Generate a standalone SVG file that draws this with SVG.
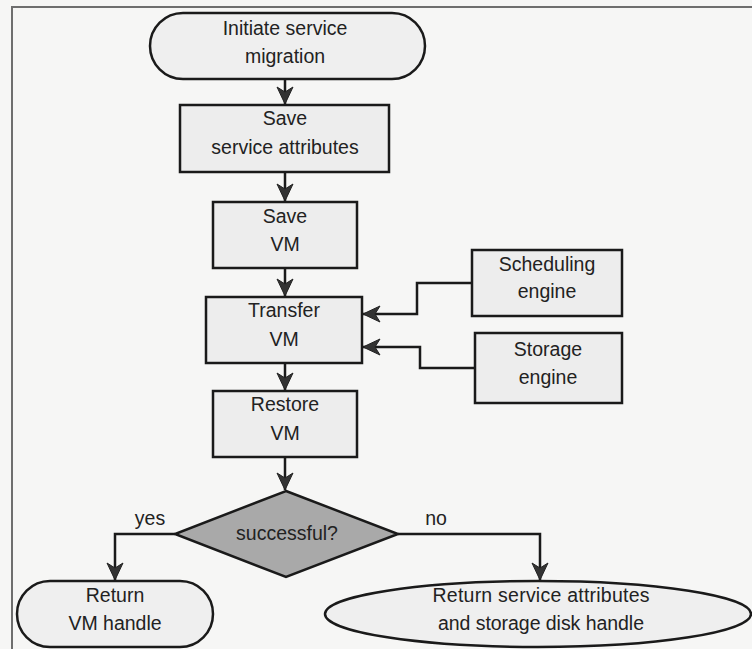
<svg xmlns="http://www.w3.org/2000/svg" width="752" height="649" viewBox="0 0 752 649">
  <style>
    .box { fill: #ededed; stroke: #1a1a1a; stroke-width: 2.5; }
    .term { fill: #efefef; stroke: #1a1a1a; stroke-width: 2.5; }
    .dec { fill: #a9a9a9; stroke: #1a1a1a; stroke-width: 2.5; }
    .lbl { font-family: "Liberation Sans", Arial, sans-serif; font-size: 19.5px; fill: #222; text-anchor: middle; }
    .wire { fill: none; stroke: #1a1a1a; stroke-width: 2.5; }
  </style>
  <defs>
    <marker id="arrow" markerUnits="userSpaceOnUse" markerWidth="20" markerHeight="18" refX="18" refY="9" orient="auto">
      <path d="M1,1 L18,9 L1,17 L6,9 z" fill="#333" stroke="#222" stroke-width="1"/>
    </marker>
  </defs>

  <!-- page background and frame -->
  <rect x="0" y="0" width="752" height="649" fill="#f6f6f5"/>
  <path d="M12,649 V7 H752" fill="none" stroke="#6e6e6e" stroke-width="2"/>

  <g id="connectors">
    <line class="wire" x1="285" y1="79" x2="285" y2="104" marker-end="url(#arrow)"/>
    <line class="wire" x1="285" y1="172" x2="285" y2="201" marker-end="url(#arrow)"/>
    <line class="wire" x1="285" y1="268" x2="285" y2="296" marker-end="url(#arrow)"/>
    <line class="wire" x1="285" y1="363" x2="285" y2="390" marker-end="url(#arrow)"/>
    <line class="wire" x1="285" y1="457" x2="285" y2="490" marker-end="url(#arrow)"/>
    <polyline class="wire" points="472,283 417,283 417,314 363,314" marker-end="url(#arrow)"/>
    <polyline class="wire" points="475,368 420,368 420,347 363,347" marker-end="url(#arrow)"/>
    <polyline class="wire" points="175,534 115,534 115,580" marker-end="url(#arrow)"/>
    <polyline class="wire" points="398,534 540,534 540,580" marker-end="url(#arrow)"/>
    <text class="lbl" x="150" y="525">yes</text>
    <text class="lbl" x="436" y="525">no</text>
  </g>

  <g id="start">
    <rect class="term" x="150" y="13" width="275" height="66" rx="33" ry="33"/>
    <text class="lbl" x="285" y="35">Initiate service</text>
    <text class="lbl" x="285" y="63">migration</text>
  </g>

  <g id="save-attributes">
    <rect class="box" x="180" y="105" width="209" height="67"/>
    <text class="lbl" x="285" y="125">Save</text>
    <text class="lbl" x="285" y="154">service attributes</text>
  </g>

  <g id="save-vm">
    <rect class="box" x="213" y="202" width="144" height="66"/>
    <text class="lbl" x="285" y="223">Save</text>
    <text class="lbl" x="285" y="251">VM</text>
  </g>

  <g id="transfer-vm">
    <rect class="box" x="206" y="297" width="156" height="66"/>
    <text class="lbl" x="284" y="317">Transfer</text>
    <text class="lbl" x="284" y="346">VM</text>
  </g>

  <g id="restore-vm">
    <rect class="box" x="213" y="391" width="144" height="66"/>
    <text class="lbl" x="285" y="411">Restore</text>
    <text class="lbl" x="285" y="440">VM</text>
  </g>

  <g id="scheduling-engine">
    <rect class="box" x="472" y="250" width="150" height="66"/>
    <text class="lbl" x="547" y="271">Scheduling</text>
    <text class="lbl" x="547" y="298">engine</text>
  </g>

  <g id="storage-engine">
    <rect class="box" x="475" y="333" width="147" height="70"/>
    <text class="lbl" x="548" y="356">Storage</text>
    <text class="lbl" x="548" y="384">engine</text>
  </g>

  <g id="successful">
    <polygon class="dec" points="286,491 398,534 286,577 175,534"/>
    <text class="lbl" x="287" y="540">successful?</text>
  </g>

  <g id="return-vm-handle">
    <rect class="term" x="17" y="581" width="196" height="66" rx="33" ry="33"/>
    <text class="lbl" x="115" y="602">Return</text>
    <text class="lbl" x="115" y="630">VM handle</text>
  </g>

  <g id="return-attributes">
    <ellipse class="term" cx="538" cy="614" rx="213" ry="33"/>
    <text class="lbl" x="541" y="602" textLength="217">Return service attributes</text>
    <text class="lbl" x="541" y="630" textLength="206">and storage disk handle</text>
  </g>
</svg>
